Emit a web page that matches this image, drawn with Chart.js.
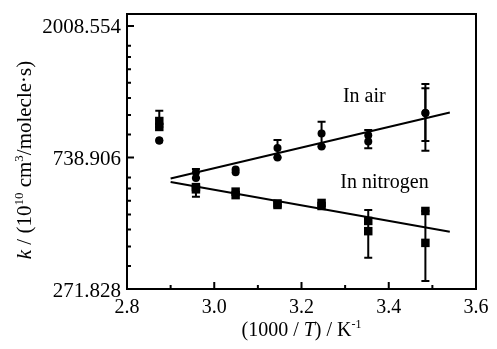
<!DOCTYPE html>
<html>
<head>
<meta charset="utf-8">
<script src="https://cdn.jsdelivr.net/npm/chart.js@4/dist/chart.umd.min.js"></script>
<style>
  html, body { margin: 0; padding: 0; background: #fff; }
  #wrap { width: 497px; height: 349px; }
</style>
</head>
<body>
<div id="wrap"><canvas id="rateChart"></canvas></div>
<script>
// 1000/T of each measurement temperature
const invTemp = [2.874, 2.958, 3.049, 3.145, 3.246, 3.353, 3.484];

// rate constants k, two runs for each gas
const airRun1 = [840, 661, 675, 794, 887, 875, 1036];
const airRun2 = [840, 632, 660, 739, 803, 834, 1036];
const n2Run1 = [975, 590, 570, 521, 523, 456, 492];
const n2Run2 = [932, 580, 555, 515, 511, 422, 386];

// error bars (x, low, high)
const airErrX = [2.958, 3.145, 3.246, 3.353, 3.484, 3.484];
const airErrLow = [632, 739, 803, 792, 838, 778];
const airErrHigh = [677, 844, 970, 911, 1251, 1292];
const n2ErrX = [2.874, 2.958, 3.353, 3.484];
const n2ErrLow = [932, 548, 345, 289];
const n2ErrHigh = [1055, 590, 496, 492];

// fitted lines, end points
const fitX = [2.9, 3.54];
const airFit = [630, 1040];
const n2Fit = [613, 420];

// axis ticks
const xMajor = [2.8, 3.0, 3.2, 3.4, 3.6];
const xMinor = [2.9, 3.1, 3.3, 3.5];
const yMajor = [271.828, 738.906, 2008.554];
const yMinor = [323.7, 375.6, 427.5, 479.4, 531.3, 583.2, 635.1,
                880.0, 1021.1, 1162.2, 1303.3, 1444.4, 1585.5, 1726.6];

const serif = '"Liberation Serif", "Times New Roman", serif';

function pts(xs, ys) {
  return xs.map((x, i) => ({ x: x, y: ys[i] }));
}

// text runs with superscripts / italics, centred on x
function drawRich(ctx, parts, x, y, size) {
  const supSize = Math.round(size * 0.6);
  let total = 0;
  parts.forEach(p => {
    ctx.font = (p.italic ? 'italic ' : '') + (p.sup ? supSize : size) + 'px ' + serif;
    p.w = ctx.measureText(p.t).width;
    total += p.w;
  });
  let cx = x - total / 2;
  parts.forEach(p => {
    ctx.font = (p.italic ? 'italic ' : '') + (p.sup ? supSize : size) + 'px ' + serif;
    ctx.fillText(p.t, cx, p.sup ? y - size * 0.4 : y);
    cx += p.w;
  });
}

const decor = {
  id: 'decor',
  beforeDatasetsDraw(chart) {
    const ctx = chart.ctx;
    const xs = chart.scales.x, ys = chart.scales.y;
    ctx.save();
    ctx.strokeStyle = '#000';
    ctx.lineWidth = 2;
    function bars(ex, lo, hi) {
      ex.forEach((x, i) => {
        const px = xs.getPixelForValue(x);
        const p1 = ys.getPixelForValue(lo[i]);
        const p2 = ys.getPixelForValue(hi[i]);
        ctx.beginPath();
        ctx.moveTo(px, p1); ctx.lineTo(px, p2);
        ctx.moveTo(px - 4, p1); ctx.lineTo(px + 4, p1);
        ctx.moveTo(px - 4, p2); ctx.lineTo(px + 4, p2);
        ctx.stroke();
      });
    }
    bars(airErrX, airErrLow, airErrHigh);
    bars(n2ErrX, n2ErrLow, n2ErrHigh);
    ctx.restore();
  },
  afterDraw(chart) {
    const ctx = chart.ctx;
    const a = chart.chartArea;
    const xs = chart.scales.x, ys = chart.scales.y;
    ctx.save();
    ctx.strokeStyle = '#000';
    ctx.fillStyle = '#000';
    ctx.lineWidth = 2;
    ctx.strokeRect(a.left, a.top, a.right - a.left, a.bottom - a.top);

    // inward tick marks
    ctx.beginPath();
    xMajor.forEach(v => { const p = xs.getPixelForValue(v); ctx.moveTo(p, a.bottom); ctx.lineTo(p, a.bottom - 7); });
    xMinor.forEach(v => { const p = xs.getPixelForValue(v); ctx.moveTo(p, a.bottom); ctx.lineTo(p, a.bottom - 4); });
    yMajor.forEach(v => { const p = ys.getPixelForValue(v); ctx.moveTo(a.left, p); ctx.lineTo(a.left + 7, p); });
    yMinor.forEach(v => { const p = ys.getPixelForValue(v); ctx.moveTo(a.left, p); ctx.lineTo(a.left + 4, p); });
    ctx.stroke();

    // series labels
    ctx.font = '20px ' + serif;
    ctx.textAlign = 'left';
    ctx.textBaseline = 'alphabetic';
    ctx.fillText('In air', xs.getPixelForValue(3.295), ys.getPixelForValue(1129));
    ctx.fillText('In nitrogen', xs.getPixelForValue(3.289), ys.getPixelForValue(585));

    // x axis title
    drawRich(ctx, [
      { t: '(1000 / ' }, { t: 'T', italic: true }, { t: ') / K' }, { t: '-1', sup: true }
    ], (a.left + a.right) / 2, 336, 20);

    // y axis title
    ctx.translate(31, 160);
    ctx.rotate(-Math.PI / 2);
    drawRich(ctx, [
      { t: 'k', italic: true }, { t: ' / (10' }, { t: '10', sup: true },
      { t: ' cm' }, { t: '3', sup: true }, { t: '/molecle\u00b7s)' }
    ], 0, 0, 21);
    ctx.restore();
  }
};

const marker = { borderColor: '#000', backgroundColor: '#000', showLine: false, borderWidth: 0 };

new Chart(document.getElementById('rateChart'), {
  type: 'scatter',
  data: {
    datasets: [
      { ...marker, label: 'air 1', data: pts(invTemp, airRun1), pointStyle: 'circle', pointRadius: 4 },
      { ...marker, label: 'air 2', data: pts(invTemp, airRun2), pointStyle: 'circle', pointRadius: 4 },
      { ...marker, label: 'N2 1', data: pts(invTemp, n2Run1), pointStyle: 'rect', pointRadius: 6 },
      { ...marker, label: 'N2 2', data: pts(invTemp, n2Run2), pointStyle: 'rect', pointRadius: 6 },
      { label: 'air fit', data: pts(fitX, airFit), showLine: true, pointRadius: 0, borderColor: '#000', borderWidth: 2 },
      { label: 'N2 fit', data: pts(fitX, n2Fit), showLine: true, pointRadius: 0, borderColor: '#000', borderWidth: 2 }
    ]
  },
  options: {
    responsive: true,
    maintainAspectRatio: false,
    animation: false,
    layout: { padding: { top: 14, right: 21, left: 0, bottom: 0 } },
    plugins: { legend: { display: false }, tooltip: { enabled: false } },
    scales: {
      x: {
        type: 'linear',
        min: 2.8,
        max: 3.6,
        grid: { display: false, drawTicks: false },
        border: { display: false },
        afterBuildTicks: s => { s.ticks = xMajor.map(v => ({ value: v })); },
        afterFit: s => { s.height = 60; },
        ticks: {
          autoSkip: false,
          maxRotation: 0,
          padding: 7,
          color: '#000',
          font: { family: serif, size: 20 },
          callback: v => Number(v).toFixed(1)
        }
      },
      y: {
        type: 'logarithmic',
        min: 271.828,
        max: 2200,
        grid: { display: false, drawTicks: false },
        border: { display: false },
        afterBuildTicks: s => { s.ticks = yMajor.map(v => ({ value: v })); },
        afterFit: s => { s.width = 127; },
        ticks: {
          autoSkip: false,
          padding: 6,
          labelOffset: 2,
          color: '#000',
          font: { family: serif, size: 21, lineHeight: 0.75 },
          callback: v => Number(v).toFixed(3)
        }
      }
    }
  },
  plugins: [decor]
});
</script>
</body>
</html>
